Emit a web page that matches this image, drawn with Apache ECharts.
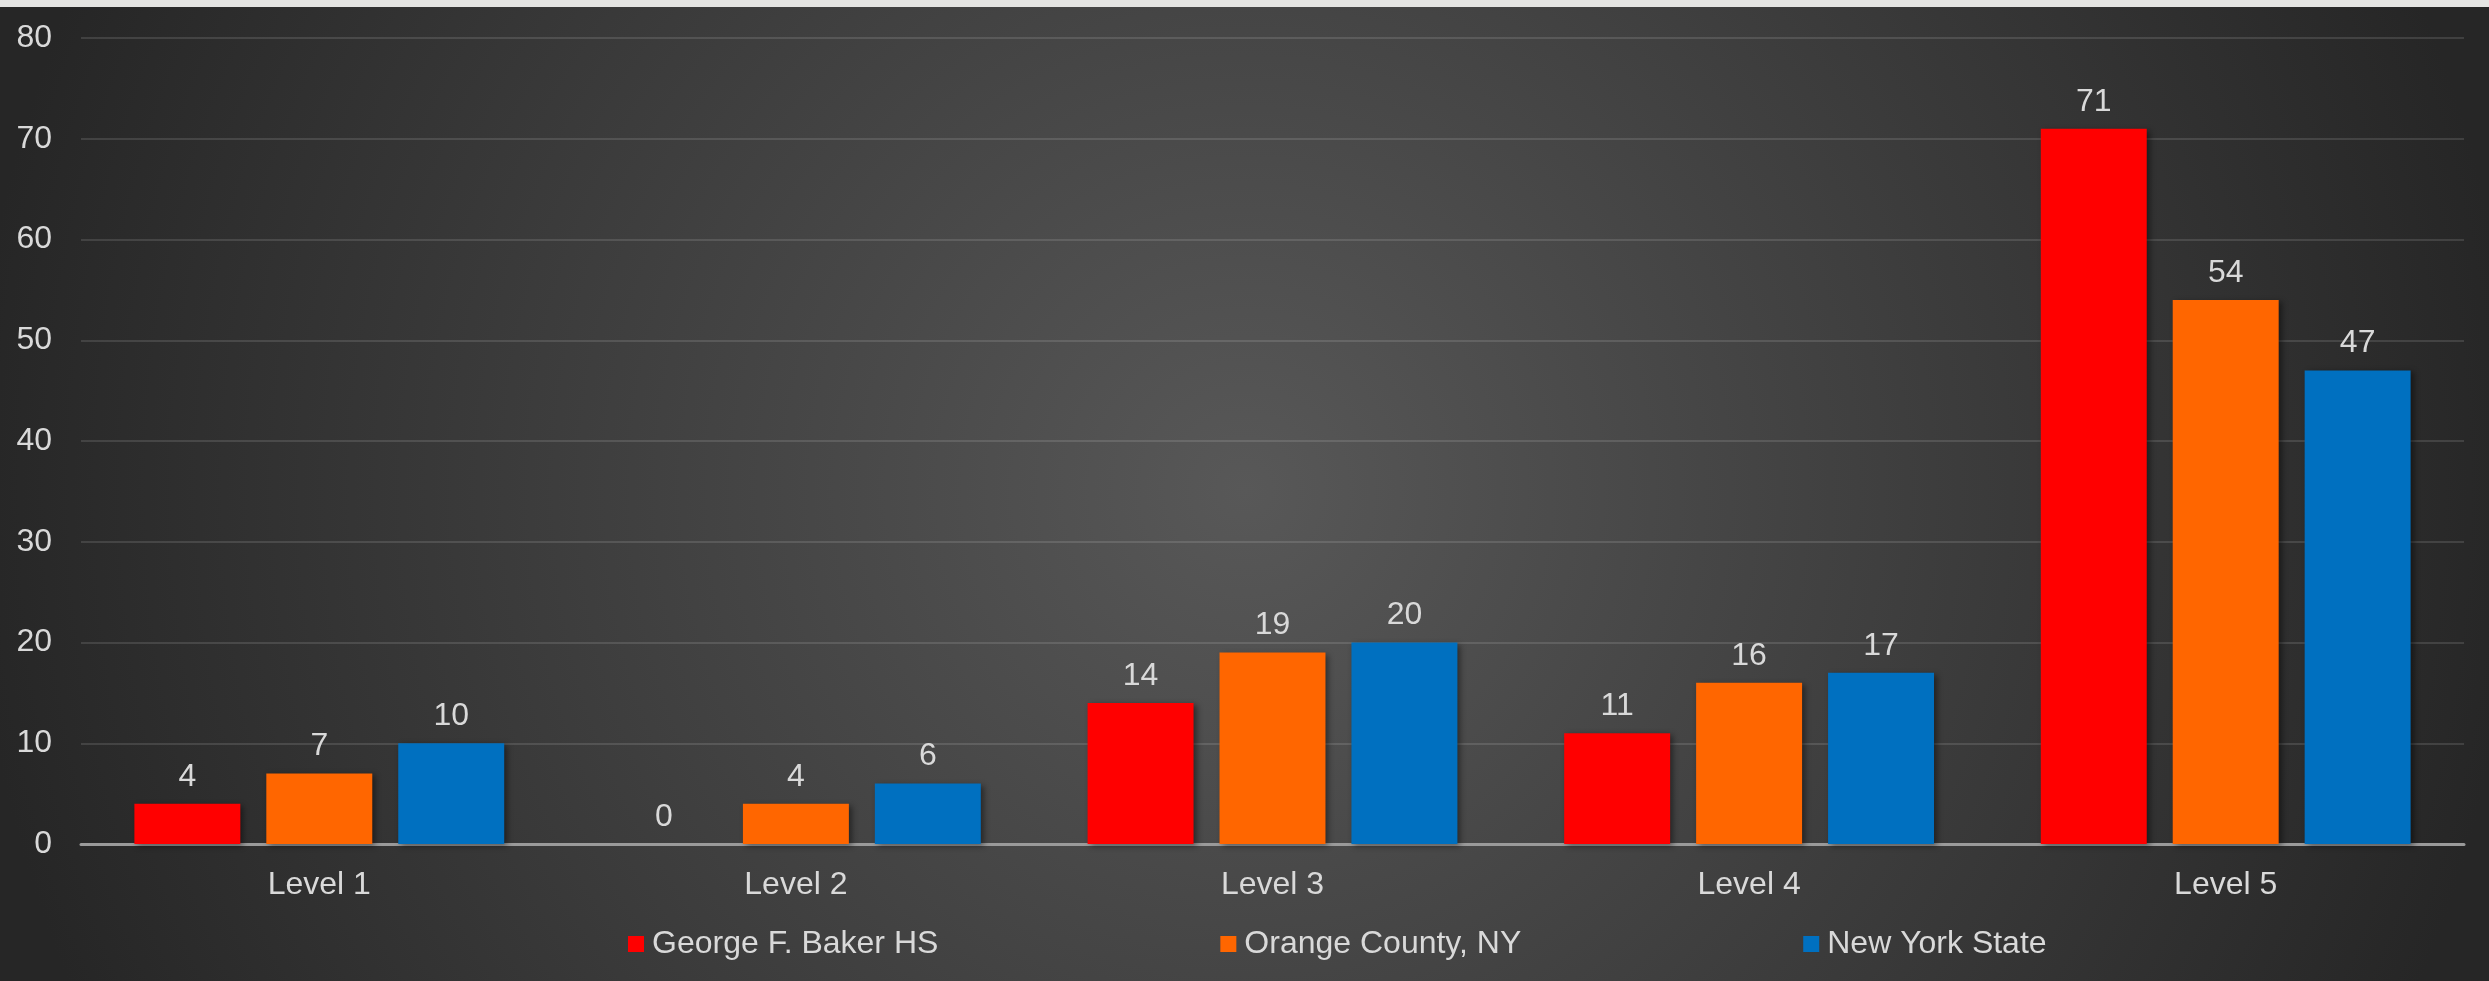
<!DOCTYPE html>
<html>
<head>
<meta charset="utf-8">
<script src="https://cdn.jsdelivr.net/npm/echarts@6/dist/echarts.min.js"></script>
<style>
html,body{margin:0;padding:0;background:#2a2a2a;}
#chart{width:2489px;height:981px;}
</style>
</head>
<body>
<div id="chart"></div>
<script>
const categories = ['Level 1', 'Level 2', 'Level 3', 'Level 4', 'Level 5'];
const seriesNames = ['George F. Baker HS', 'Orange County, NY', 'New York State'];
const bakerHS = [4, 0, 14, 11, 71];
const orangeCounty = [7, 4, 19, 16, 54];
const nyState = [10, 6, 20, 17, 47];
const seriesColors = ['#FF0000', '#FF6600', '#0070C0'];

const chart = echarts.init(document.getElementById('chart'));
const font = 'Liberation Sans, Arial, sans-serif';
const txt = '#d9d9d9';

function mk(name, data, color) {
  return {
    name: name,
    type: 'bar',
    data: data,
    barGap: '24.5%',
    barCategoryGap: '22.4%',
    itemStyle: {
      color: color,
      shadowColor: 'rgba(0,0,0,0.45)',
      shadowBlur: 6,
      shadowOffsetX: 3,
      shadowOffsetY: 2
    },
    label: {
      show: true,
      position: 'top',
      distance: 11,
      color: txt,
      fontSize: 32,
      fontFamily: font
    }
  };
}

chart.setOption({
  backgroundColor: {
    type: 'radial', x: 0.5, y: 0.5, r: 1.3,
    colorStops: [
      { offset: 0, color: '#585858' },
      { offset: 1, color: '#262626' }
    ]
  },
  graphic: [{
    type: 'rect', left: 0, top: 0,
    shape: { width: 2489, height: 7 },
    style: { fill: '#e4e4e2' }
  }],
  animation: false,
  grid: { left: 81, right: 25, top: 38, bottom: 137, containLabel: false },
  legend: {
    data: seriesNames,
    left: 623,
    top: 923,
    icon: 'rect',
    itemWidth: 16,
    itemHeight: 16,
    itemGap: 282,
    textStyle: { color: txt, fontSize: 32, fontFamily: font, padding: [0, 0, 0, 3] }
  },
  xAxis: {
    type: 'category',
    data: categories,
    axisTick: { show: false },
    axisLine: { lineStyle: { color: '#9a9a9a', width: 3 } },
    axisLabel: { color: txt, fontSize: 32, fontFamily: font, margin: 25 }
  },
  yAxis: {
    type: 'value',
    min: 0, max: 80, interval: 10,
    axisLine: { show: false },
    axisTick: { show: false },
    splitLine: { lineStyle: { color: 'rgba(255,255,255,0.12)', width: 2 } },
    axisLabel: { color: txt, fontSize: 32, fontFamily: font, margin: 29 }
  },
  series: [
    mk(seriesNames[0], bakerHS, seriesColors[0]),
    mk(seriesNames[1], orangeCounty, seriesColors[1]),
    mk(seriesNames[2], nyState, seriesColors[2])
  ]
});
</script>
</body>
</html>
